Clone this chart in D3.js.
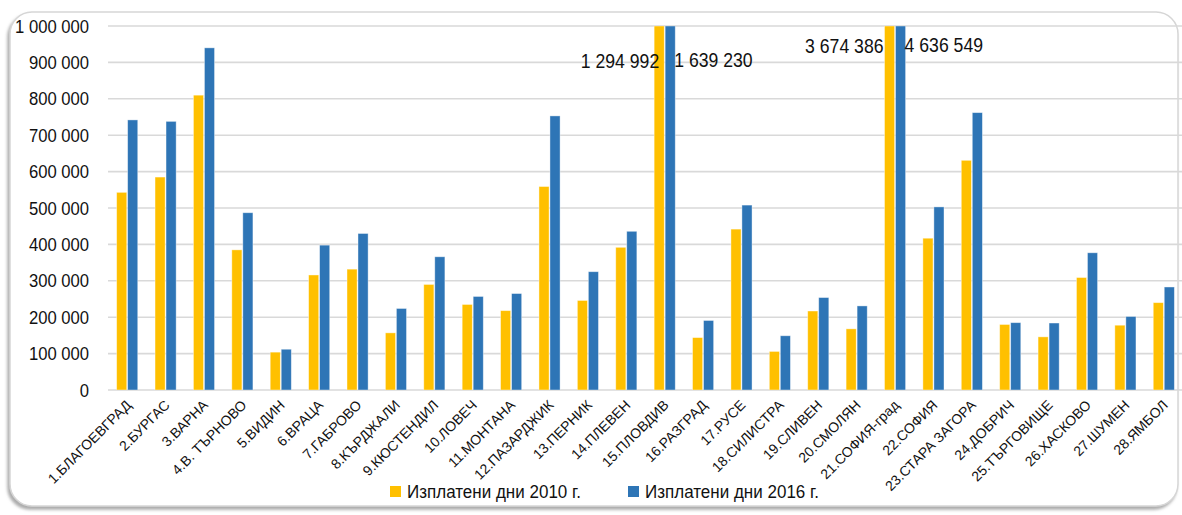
<!DOCTYPE html>
<html>
<head>
<meta charset="utf-8">
<script src="https://cdn.jsdelivr.net/npm/d3@7"></script>
<style>
  body { margin: 0; background: #fff; }
  svg text { font-family: "Liberation Sans", Arial, sans-serif; fill: #111; }
</style>
</head>
<body>
<div id="bar-chart"></div>
<script>
// districts (28 области)
var categories = ["1.БЛАГОЕВГРАД", "2.БУРГАС", "3.ВАРНА", "4.В. ТЪРНОВО", "5.ВИДИН", "6.ВРАЦА",
    "7.ГАБРОВО", "8.КЪРДЖАЛИ", "9.КЮСТЕНДИЛ", "10.ЛОВЕЧ", "11.МОНТАНА", "12.ПАЗАРДЖИК",
    "13.ПЕРНИК", "14.ПЛЕВЕН", "15.ПЛОВДИВ", "16.РАЗГРАД", "17.РУСЕ", "18.СИЛИСТРА",
    "19.СЛИВЕН", "20.СМОЛЯН", "21.СОФИЯ-град", "22.СОФИЯ", "23.СТАРА  ЗАГОРА", "24.ДОБРИЧ",
    "25.ТЪРГОВИЩЕ", "26.ХАСКОВО", "27.ШУМЕН", "28.ЯМБОЛ"];

var paid2010 = [543000, 585000, 810000, 385000, 104000, 316000, 332000, 157000, 290000, 235000,
    218000, 559000, 246000, 392000, 1294992, 144000, 442000, 106000, 217000, 168000,
    3674386, 417000, 631000, 180000, 146000, 309000, 178000, 240000];

var paid2016 = [742000, 738000, 940000, 487000, 112000, 398000, 430000, 224000, 366000, 257000,
    265000, 753000, 325000, 436000, 1639230, 191000, 508000, 149000, 254000, 231000,
    4636549, 503000, 762000, 185000, 184000, 377000, 202000, 283000];

var seriesNames = ["Изплатени дни 2010 г.", "Изплатени дни 2016 г."];
var seriesColors = ["#FFC000", "#2E75B6"];
var yTicks = [0, 100000, 200000, 300000, 400000, 500000, 600000, 700000, 800000, 900000, 1000000];

var W = 1182, H = 515,
    plot = { left: 108, right: 1183, top: 26, bottom: 390 },
    svg;

function fmt(v) {
    return d3.format(",")(v).replace(/,/g, " ");
}

function draw(config) {
    var data = config.categories.map(function(c, i) {
        return { name: c, values: [config.s1[i], config.s2[i]] };
    });

    var x0 = d3.scaleBand().domain(config.categories)
            .range([plot.left, plot.right])
            .paddingInner(0.45).paddingOuter(0.225),
        x1 = d3.scaleBand().domain([0, 1]).range([0, x0.bandwidth()]).paddingInner(0.08),
        y = d3.scaleLinear().domain([0, 1000000]).range([plot.bottom, plot.top]);

    svg = d3.select("#" + config.element).append("svg")
        .attr("width", W)
        .attr("height", H);

    var defs = svg.append("defs");
    var f = defs.append("filter").attr("id", "shadow")
        .attr("x", "-5%").attr("y", "-5%").attr("width", "110%").attr("height", "115%");
    f.append("feDropShadow").attr("dx", -2).attr("dy", 3).attr("stdDeviation", 1.6)
        .attr("flood-color", "#888").attr("flood-opacity", 0.7);
    defs.append("clipPath").attr("id", "plotclip")
        .append("rect").attr("x", 0).attr("y", plot.top).attr("width", W).attr("height", plot.bottom - plot.top);

    // frame
    svg.append("rect")
        .attr("x", 10).attr("y", 12).attr("width", 1168).attr("height", 494)
        .attr("rx", 22).attr("ry", 22)
        .attr("fill", "#fff").attr("stroke", "#d6d6d6").attr("stroke-width", 1.5)
        .attr("filter", "url(#shadow)");

    // gridlines
    svg.append("g").selectAll("line").data(yTicks).enter().append("line")
        .attr("x1", plot.left).attr("x2", W)
        .attr("y1", function(d) { return y(d); })
        .attr("y2", function(d) { return y(d); })
        .attr("stroke", "#d9d9d9").attr("stroke-width", 1.6);

    // y labels
    svg.append("g").selectAll("text").data(yTicks).enter().append("text")
        .attr("transform", function(d) { return "translate(89," + y(d) + ") scale(0.9,1)"; })
        .attr("dy", "0.36em")
        .attr("text-anchor", "end")
        .style("font-size", "18.5px")
        .text(fmt);

    // bars
    var groups = svg.append("g").attr("clip-path", "url(#plotclip)")
        .selectAll("g").data(data).enter().append("g")
        .attr("transform", function(d) { return "translate(" + x0(d.name) + ",0)"; });

    groups.selectAll("rect").data(function(d) { return d.values; }).enter().append("rect")
        .attr("x", function(d, i) { return x1(i); })
        .attr("width", x1.bandwidth())
        .attr("y", function(d) { return y(Math.min(d, 1000000)); })
        .attr("height", function(d) { return plot.bottom - y(Math.min(d, 1000000)); })
        .attr("fill", function(d, i) { return seriesColors[i]; })
        .attr("stroke", "#fff").attr("stroke-opacity", 0.5).attr("stroke-width", 0.8);

    // labels for bars that run off the scale
    var over = data.filter(function(d) { return d.values[0] > 1000000; });
    over.forEach(function(d, k) {
        var gx = x0(d.name);
        // Пловдив: labels lower; София-град: labels higher
        var base = k === 0 ? 68 : 53;
        svg.append("text")
            .attr("transform", "translate(" + (gx + (k === 0 ? x1(0) + x1.bandwidth() / 2 : x1(0) - 1)) + "," + base + ") scale(0.86,1)")
            .attr("text-anchor", "end")
            .style("font-size", "20.5px")
            .text(fmt(d.values[0]));
        svg.append("text")
            .attr("transform", "translate(" + (gx + x1(1) + x1.bandwidth() - 1) + "," + (base - 1) + ") scale(0.86,1)")
            .attr("text-anchor", "start")
            .style("font-size", "20.5px")
            .text(fmt(d.values[1]));
    });

    // x axis labels
    var xAxis = d3.axisBottom(x0).tickSize(0);
    var gx = svg.append("g")
        .attr("transform", "translate(0," + plot.bottom + ")")
        .call(xAxis);
    gx.select(".domain").remove();
    gx.selectAll("text")
        .attr("y", 0).attr("dy", 0)
        .attr("transform", "translate(5,16) rotate(-45)")
        .attr("text-anchor", "end")
        .style("font-size", "14px")
        .style("font-family", "'Liberation Sans', Arial, sans-serif")
        .attr("fill", "#111");

    // legend
    var legX = [390, 628];
    var leg = svg.append("g").selectAll("g").data(seriesNames).enter().append("g")
        .attr("transform", function(d, i) { return "translate(" + legX[i] + ",486)"; });
    leg.append("rect").attr("width", 11).attr("height", 11)
        .attr("fill", function(d, i) { return seriesColors[i]; });
    leg.append("text")
        .attr("transform", "translate(17,12) scale(0.92,1)")
        .style("font-size", "18.5px")
        .text(function(d) { return d; });
}

draw({
    categories: categories,
    s1: paid2010,
    s2: paid2016,
    element: "bar-chart"
});
</script>
</body>
</html>
